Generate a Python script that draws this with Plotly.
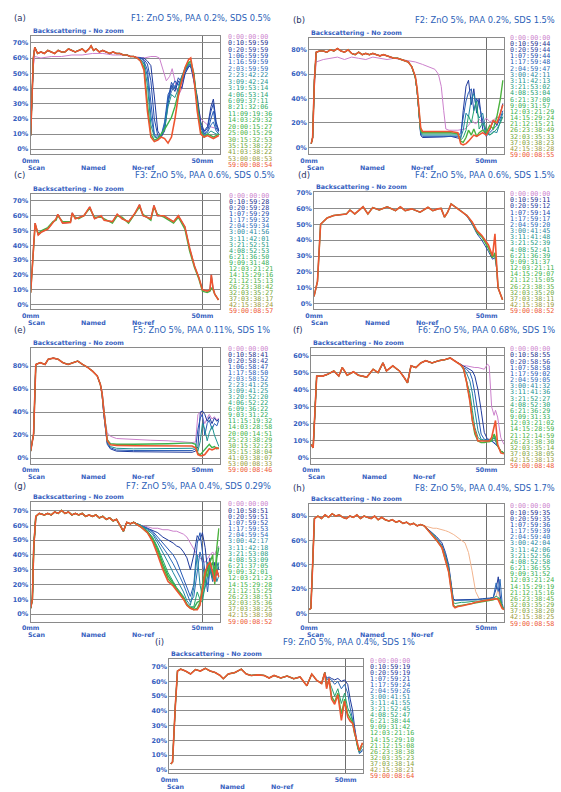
import plotly.graph_objects as go

W, H = 561, 792

# ---------------- Panel (a) F1 ----------------
A_HX = [0, 0.4, 0.8, 1.2, 2, 3, 4, 5, 6, 7, 8, 9, 10, 11, 12, 13, 14, 15, 16, 17, 17.6, 18.3, 19, 20, 21, 22, 23, 24, 25, 26, 27, 28, 29, 30, 31]
A_HY = [9, 30, 60, 67, 63, 64, 63, 65, 64, 63, 65, 64, 64, 66, 65, 64, 65, 66, 64, 66, 68, 65, 66, 64, 65, 64, 63, 64, 63, 63, 62, 62, 61, 61, 60]
A_P0X = [0, 0.4, 0.8, 1.2, 3, 6, 9, 12, 15, 18, 21, 24, 27, 30, 33, 35, 36.5, 37.5, 38.5, 39.5, 40.5, 41.2, 42, 43, 44, 45, 46.5, 47.5, 48.5, 49.5, 50.5, 52, 53.5, 54.8]
A_P0Y = [9, 30, 55, 61, 60, 61, 61, 62, 62, 63, 63, 62, 62, 61, 60, 61, 61, 60, 52, 45, 48, 53, 45, 35, 40, 52, 55, 45, 30, 20, 18, 15, 14, 13]
A_TX = [31, 32, 33, 34, 35, 36, 37, 38, 39, 40, 41, 42, 43, 44, 45, 46, 46.6, 47.5, 48.5, 49.5, 50.5, 51.5, 52.5, 53.2, 54, 54.8]
A_T2 = [60, 60, 60, 58, 55, 35, 12, 8, 12, 30, 42, 38, 45, 40, 50, 55, 56, 45, 35, 18, 12, 15, 28, 33, 18, 12]
A_T3 = [60, 60, 59, 56, 45, 20, 9, 8, 15, 33, 44, 40, 47, 44, 50, 54, 55, 47, 32, 16, 11, 14, 25, 30, 16, 12]
A_T4 = [60, 60, 58, 52, 30, 10, 8, 9, 18, 36, 40, 45, 42, 48, 52, 55, 54, 50, 30, 15, 10, 12, 20, 25, 14, 11]
A_T5 = [60, 59, 57, 48, 22, 9, 7, 9, 16, 32, 38, 42, 38, 46, 52, 56, 55, 49, 29, 14, 10, 11, 16, 18, 12, 10]
A_T7 = [60, 59, 56, 42, 16, 8, 7, 9, 14, 28, 36, 34, 40, 48, 54, 57, 56, 48, 28, 12, 9, 10, 12, 11, 10, 10]
A_T13 = [60, 58, 54, 30, 10, 6, 7, 10, 13, 17, 21, 28, 38, 46, 53, 57, 58, 50, 30, 12, 8, 10, 9, 8, 9, 10]
A_T20 = [60, 58, 52, 25, 8, 5, 6, 8, 7, 4, 8, 20, 35, 45, 54, 59, 60, 48, 25, 10, 8, 9, 8, 7, 8, 9]
A_LEG = ["0:00:00:00", "0:10:59:59", "0:20:59:59", "1:06:59:59", "1:16:59:59", "2:03:59:59", "2:23:42:22",
         "3:09:42:24", "3:19:53:14", "4:06:53:14", "6:09:37:11", "8:21:32:06", "11:09:19:36", "14:03:29:32",
         "20:00:15:27", "25:00:15:29", "30:15:32:53", "35:15:38:22", "41:03:38:22", "53:00:08:53", "59:00:08:54"]

# ---------------- Panel (b) F2 ----------------
B_HX = [0.6, 1.0, 1.5, 2.0, 3, 4, 5, 6, 7, 8, 9, 10, 11, 12, 13, 14, 15, 16, 17, 18, 19, 20, 21, 22, 23, 24, 25, 26, 27]
B_HY = [3, 8, 55, 78, 79, 79, 78, 80, 79, 81, 79, 78, 80, 77, 76, 78, 76, 77, 76, 77, 76, 75, 76, 75, 74, 73, 73, 72, 71]
B_P0X = [0.6, 1.0, 1.5, 2.0, 4, 6, 8, 10, 12, 14, 16, 18, 20, 22, 24, 26, 28, 30, 32, 34, 35.5, 36.5, 37.3, 38, 38.6, 39.5, 42, 44, 45, 46, 47, 48, 49, 50, 51, 52, 53, 54, 54.7]
B_P0Y = [3, 8, 50, 70, 72, 73, 74, 72, 74, 73, 72, 74, 73, 72, 73, 72, 71, 70, 68, 66, 64, 60, 50, 30, 15, 14, 14, 15, 18, 22, 19, 23, 20, 24, 21, 22, 25, 22, 25]
B_TX = [27, 28, 29, 30, 30.5, 31, 31.5, 32, 34, 36, 38, 40, 42, 42.8, 43.5, 44.3, 45, 45.8, 46.5, 47.3, 48, 49, 50, 51, 52, 53, 54, 54.7]
B_T2 = [71, 70, 66, 57, 46, 25, 10, 8, 8, 8, 8.5, 9, 8, 7, 30, 50, 55, 35, 48, 28, 40, 15, 10, 14, 22, 18, 28, 36]
B_T4 = [71, 70, 66, 57, 46, 25, 11, 9, 9, 9, 9, 9.5, 9, 12, 25, 38, 45, 48, 30, 40, 35, 22, 9, 12, 15, 18, 24, 30]
B_T6 = [71, 70, 66, 57, 46, 26, 12, 10, 10, 10, 10, 10, 10, 8, 14, 28, 25, 40, 44, 30, 24, 28, 12, 10, 13, 12, 22, 28]
B_T9 = [71, 70, 66, 57, 46, 27, 13, 11, 11, 11, 11.5, 11, 11, 6, 8, 14, 26, 20, 30, 38, 15, 20, 14, 10, 12, 15, 20, 25]
B_T14 = [71, 70, 66, 57, 47, 28, 14, 12, 12, 12, 12.5, 12, 11, 5, 4, 8, 14, 10, 15, 9, 12, 14, 12, 18, 15, 25, 40, 55]
B_T19 = [71, 70, 66, 58, 48, 30, 16, 13, 13, 13, 13.5, 13, 12, 3, 2, 3, 5, 8, 10, 9, 10, 12, 10, 15, 22, 20, 28, 35]
B_LEG = ["0:00:00:00", "0:10:59:44", "0:20:59:44", "1:07:59:44", "1:17:59:48", "2:04:59:47", "3:00:42:11",
         "3:11:42:13", "3:21:53:02", "4:08:53:04", "6:21:37:00", "9:09:31:57", "12:03:21:29", "14:15:29:24",
         "21:12:15:21", "26:23:38:49", "32:03:35:33", "37:03:38:23", "42:15:38:28", "59:00:08:55"]

# ---------------- Panel (c) F3 ----------------
C_X = [0, 0.6, 1.3, 2.2, 3.2, 5, 6.5, 7.4, 7.9, 9.3, 11.6, 12.1, 13, 14, 15.5, 17.2, 18.6, 20.5, 21.4, 23.8, 25.2, 26.6, 28.5, 30.3, 31.7, 32.7, 35, 35.9, 36.9, 38.8, 40.2, 41.6, 43, 44.9, 46.3, 47.7, 49, 50, 51.4, 52.2, 52.6, 53.1, 53.6, 54.7]
C_Y = [8, 30, 55, 47, 49, 51, 55, 58, 61, 55, 55.5, 62, 58, 59, 60, 66, 58, 60, 57, 56, 61, 58, 56, 61.5, 67.5, 60, 58, 67, 60, 60, 58, 56, 60, 52.6, 38, 26, 18, 10, 9, 10, 20, 11, 7, 3]
C_Y2 = [8, 30, 54, 48, 50, 52, 56, 57, 60, 56, 56, 61, 59, 58, 60, 65, 59, 59, 58, 55, 60, 59, 55, 61, 66, 61, 57, 66, 61, 59, 57, 55, 59, 51, 36, 25, 17, 9, 8, 9, 11, 10, 7, 3]
C_LEG = ["0:00:00:00", "0:10:59:28", "0:20:59:28", "1:07:59:29", "1:17:59:32", "2:04:59:34", "3:00:41:56",
         "3:11:42:01", "3:21:52:51", "4:08:52:53", "6:21:36:50", "9:09:31:48", "12:03:21:21", "14:15:29:16",
         "21:12:15:13", "26:23:38:42", "32:03:35:27", "37:03:38:17", "42:15:38:24", "59:00:08:57"]

# ---------------- Panel (d) F4 ----------------
D_X = [0, 0.5, 1.0, 1.9, 3.8, 5.7, 7.6, 9.4, 10.4, 11.8, 14.2, 15.6, 17, 18.9, 21.2, 23.6, 25, 26.4, 28.3, 30.7, 33, 34.4, 35.9, 36.8, 37.8, 38.7, 39.7, 41.1, 42.5, 44.3, 45.8, 47.2, 48.6, 50.5, 51.7, 52.4, 52.9, 53.3, 54.6]
D_Y = [4.6, 10, 14, 50, 54, 55.5, 56, 56.5, 59, 56.5, 61, 56.5, 60.5, 59, 61, 58.6, 61, 58.6, 59.7, 57.6, 60.7, 58.6, 59.7, 60, 54.5, 57.6, 62.8, 60.7, 58.6, 55.5, 51.4, 46, 43, 37, 30, 44, 24, 10, 2.5]
D_Y2 = [4.6, 10, 14, 50, 54, 55.5, 56, 56.5, 59, 56.5, 61, 56.5, 60.5, 59, 61, 58.6, 61, 58.6, 59.7, 57.6, 60.7, 58.6, 59.7, 60, 54.5, 57.6, 62.8, 60.7, 58.6, 55, 50, 44, 40, 33, 28, 29, 22, 10, 2.5]
D_Y3 = [4.6, 10, 14, 50, 54, 55.5, 56, 56.5, 59, 56.5, 61, 56.5, 60.5, 59, 61, 58.6, 61, 58.6, 59.7, 57.6, 60.7, 58.6, 59.7, 60, 54.5, 57.6, 62.8, 60.7, 58.6, 55.5, 51, 45, 42, 35, 29, 32, 23, 10, 2.5]
D_LEG = ["0:00:00:00", "0:10:59:11", "0:20:59:12", "1:07:59:14", "1:17:59:17", "2:04:59:20", "3:00:41:45",
         "3:11:41:48", "3:21:52:39", "4:08:52:41", "6:21:36:39", "9:09:31:37", "12:03:21:11", "14:15:29:07",
         "21:12:15:05", "26:23:38:35", "32:03:35:20", "37:03:38:11", "42:15:38:19", "59:00:08:52"]

# ---------------- Panel (e) F5 ----------------
E_HX = [0, 0.86, 1.5, 2.8, 4.2, 5.1, 6.6, 8, 9.4, 10.9, 12.3, 13.7, 15.1, 16.6, 18, 19.4, 20.3]
E_HY = [6, 21, 81.5, 83, 81.5, 86, 87, 86, 83, 81.5, 83, 84.4, 81.5, 79, 75.7, 71.4, 64]
E_TX = [20.3, 20.8, 21.3, 21.8, 22.3, 23.2, 25, 30, 35, 40, 45, 47, 48, 48.7, 49.4, 50, 50.7, 51.4, 52, 52.8, 53.5, 54.2, 54.8]
E_T0 = [64, 58, 45, 30, 22, 19, 17, 16, 15.5, 15, 14, 13.5, 14, 38, 40, 36, 30, 35, 38, 34, 36, 33, 35]
E_T2 = [64, 55, 38, 22, 12, 8, 6, 5.5, 5.5, 5, 5, 5, 6, 10, 40, 41, 38, 32, 36, 30, 35, 32, 34]
E_T4 = [64, 55, 38, 22, 13, 9, 7, 6.5, 6.5, 6, 6, 6.5, 8, 25, 35, 38, 20, 30, 33, 25, 30, 28, 33]
E_T7 = [64, 56, 40, 24, 14, 10, 8.5, 8, 8, 8, 8, 8.5, 9, 6, 15, 30, 25, 15, 22, 28, 20, 15, 10]
E_T13 = [64, 56, 42, 26, 16, 12.5, 12, 12, 12, 12.5, 13, 13, 12, 4, 3, 5, 8, 10, 12, 9, 10, 8, 9]
E_T20 = [64, 56, 41, 25, 15, 11.5, 11, 10.7, 10.7, 10.7, 10.5, 10.5, 9, 3, 2, 2, 3, 6, 8, 7, 8, 9, 8]
E_LEG = ["0:00:00:00", "0:10:58:41", "0:20:58:42", "1:06:58:47", "1:17:58:50", "2:03:58:52", "2:23:41:25",
         "3:09:41:25", "3:20:52:20", "4:06:52:22", "6:09:36:22", "9:03:31:22", "11:15:19:32", "14:03:28:58",
         "20:00:14:51", "25:23:38:29", "30:15:32:23", "35:15:38:04", "41:03:38:07", "53:00:08:33", "59:00:08:46"]

# ---------------- Panel (f) F6 ----------------
F_HX = [0, 0.6, 1.6, 3.3, 4.7, 6.5, 7.9, 8.9, 10.3, 12.1, 13.5, 15.9, 17.7, 19.1, 20.5, 21.5, 23.3, 25.2, 26.6, 27.5, 28.5, 29.9, 31.3, 32.7, 34.5, 36.4, 38.3, 39.7, 41.1, 42.5]
F_HY = [8, 6, 48, 48, 49, 51, 48, 53, 48.5, 50.5, 48.5, 47.4, 52, 50, 55.7, 51, 54, 51, 47, 44, 54, 53, 55.7, 57, 55.7, 57, 57.7, 58.6, 56.7, 54.8]
F_TX = [42.5, 43.4, 44.3, 45.3, 46, 46.7, 47.6, 48.5, 49.4, 50.3, 50.8, 51.5, 52.2, 52.6, 53.2, 54.1, 55]
F_T0 = [54.8, 54, 54, 53.5, 53, 53, 53, 52.5, 52, 55, 54, 30, 25, 28, 24, 12, 8]
F_T2 = [54.8, 54, 53, 52, 51, 48, 40, 28, 15, 11, 11, 10, 9, 8, 7, 4, 3]
F_T4 = [54.8, 53, 52, 50, 46, 38, 26, 14, 11, 10.5, 10.5, 10, 9, 8, 7, 4, 3]
F_T6 = [54.8, 53, 50, 45, 38, 28, 16, 11, 10.5, 10.5, 10.5, 10, 12, 10, 7, 4, 3]
F_T9 = [54.8, 52, 46, 38, 28, 18, 12, 10.5, 10, 10, 10, 11, 13, 11, 7, 4, 3]
F_T14 = [54.8, 53, 45, 34, 22, 14, 10, 9, 9, 9.5, 9.5, 10, 14, 12, 7, 4, 3]
F_T19 = [54.8, 53, 45, 33, 22, 16, 10, 10, 10, 10, 10, 12, 19, 22, 8, 3, 2.5]
F_LEG = ["0:00:00:00", "0:10:58:55", "0:20:58:56", "1:07:58:58", "1:17:59:02", "2:04:59:05", "3:00:41:32",
         "3:11:41:36", "3:21:52:27", "4:08:52:30", "6:21:36:29", "9:09:31:33", "12:03:21:02", "14:15:28:59",
         "21:12:14:59", "26:23:38:30", "32:03:35:14", "37:03:38:05", "42:15:38:13", "59:00:08:48"]

# ---------------- Panel (g) F7 ----------------
G_HX = [0, 0.5, 0.9, 1.5, 2.5, 4, 5, 6, 7, 8, 9, 10, 11, 12, 13, 14, 15, 16, 17, 18, 19, 20, 21, 22, 23, 24, 25, 26, 27, 28, 29, 30]
G_HY = [4, 10, 45, 66, 68, 67, 68, 67, 69, 68, 70, 68, 69, 67, 68, 67, 68, 66, 67, 66, 67, 65, 66, 64, 65, 63, 64, 60, 56, 62, 61, 62]
G_TX = [30, 32, 34, 35.5, 37, 38.5, 40, 41.5, 42.5, 43.5, 44.5, 45.5, 46.5, 47.5, 48.5, 49.3, 50, 50.8, 51.5, 52.2, 53, 53.6, 54.2, 54.8]
G_T0 = [62, 60, 59, 58, 58, 57, 57, 56, 56, 55, 54, 52, 48, 44, 40, 38, 36, 35, 38, 40, 42, 40, 44, 46]
G_T2 = [62, 60, 58, 57, 55, 52, 50, 48, 46, 45, 42, 38, 30, 40, 53, 50, 55, 45, 30, 38, 25, 35, 28, 32]
G_T4 = [62, 60, 58, 56, 52, 48, 44, 40, 36, 30, 24, 18, 12, 20, 48, 55, 42, 25, 15, 30, 22, 28, 35, 30]
G_T5 = [62, 60, 58, 55, 50, 45, 40, 34, 30, 25, 20, 14, 8, 12, 30, 42, 35, 22, 20, 32, 25, 30, 26, 28]
G_T6 = [62, 60, 57, 54, 48, 42, 35, 28, 24, 20, 15, 9, 6, 18, 40, 20, 12, 18, 25, 35, 28, 30, 22, 26]
G_T9 = [62, 60, 56, 52, 45, 36, 28, 22, 18, 15, 12, 7, 5, 5, 15, 10, 8, 20, 35, 30, 24, 32, 28, 35]
G_T11 = [62, 59, 56, 51, 44, 34, 26, 21, 17, 14, 11, 6.5, 4.5, 4, 8, 9, 14, 25, 30, 32, 35, 25, 38, 45]
G_T14 = [62, 59, 55, 50, 42, 32, 24, 20, 17, 14, 11, 6, 4, 3, 4, 8, 20, 30, 25, 35, 40, 20, 45, 58]
G_T19 = [62, 59, 55, 49, 40, 30, 22, 19, 16, 13, 10, 6, 4, 3, 3, 6, 18, 28, 33, 35, 28, 22, 30, 25]
G_LEG = ["0:00:00:00", "0:10:58:51", "0:20:59:51", "1:07:59:52", "1:17:59:53", "2:04:59:54", "3:00:42:17",
         "3:11:42:18", "3:21:53:08", "4:08:53:09", "6:21:37:05", "9:09:32:01", "12:03:21:23", "14:15:29:28",
         "21:12:15:25", "26:23:38:51", "32:03:35:36", "37:03:38:25", "42:15:38:30", "59:00:08:52"]

# ---------------- Panel (h) F8 ----------------
H_HX = [0, 0.5, 1, 1.5, 2.5, 3.5, 4.5, 5.5, 6.5, 7.5, 8.5, 9.5, 10.5, 11.5, 12.5, 13.5, 14.5, 15.5, 16.5, 17.5, 18.5, 19.5, 20.5, 21.5, 22.5, 23.5, 24.5, 25.5, 26.5, 27.5, 28.5, 29.5, 30.5, 31.5, 32.5]
H_HY = [3, 4, 40, 78, 80, 78, 81, 79, 82, 80, 81, 79, 78, 80, 79, 81, 78, 80, 79, 78, 80, 77, 79, 77, 76, 77, 75, 76, 74, 75, 73, 74, 72, 73, 72]
H_TX = [32.5, 34, 35, 36, 37.5, 38.5, 39.4, 40.3, 40.7, 41.2, 42, 43, 44, 45, 46, 47, 48, 49, 50, 51, 52, 52.8, 53.4, 53.9, 54.5, 55]
H_T0 = [72, 71, 70, 70, 69, 68, 67, 66, 65, 64, 62, 60, 58, 50, 35, 18, 12, 11, 11, 12, 13, 14, 20, 10, 5, 3]
H_T2 = [72, 68, 66, 63, 58, 50, 40, 20, 12, 11, 11, 11, 11, 11, 11, 11.5, 11.5, 12, 12, 12.5, 13, 20, 30, 15, 5, 3]
H_T5 = [72, 68, 65, 62, 56, 48, 38, 18, 11, 10.5, 10.5, 10.5, 10.5, 11, 11, 11, 11.5, 11.5, 12, 12, 13, 25, 18, 28, 8, 3]
H_T9 = [72, 67, 65, 61, 55, 46, 36, 17, 9, 8, 8.5, 9, 9, 9.5, 9.5, 10, 10, 10.5, 10.5, 11, 12, 14, 13, 12, 6, 3]
H_T14 = [72, 67, 64, 60, 54, 45, 35, 16, 7, 5, 6, 6.5, 7, 8, 8.5, 9, 9.5, 10, 10, 10.5, 11, 12, 12, 10, 5, 3]
H_T19 = [72, 67, 64, 60, 54, 44, 34, 15, 6, 4.5, 5.5, 6, 6.5, 7.5, 8, 9, 9.5, 10, 10, 10.5, 11, 12, 11, 8, 4, 3]
H_LEG = ["0:00:00:00", "0:10:59:35", "0:20:59:35", "1:07:59:36", "1:17:59:39", "2:04:59:40", "3:00:42:04",
         "3:11:42:06", "3:21:52:56", "4:08:52:58", "6:21:36:55", "9:09:31:52", "12:03:21:24", "14:15:29:19",
         "21:12:15:16", "26:23:38:45", "32:03:35:29", "37:03:38:20", "42:15:38:25", "59:00:08:58"]

# ---------------- Panel (i) F9 ----------------
I_HX = [0.4, 0.9, 1.7, 2.3, 3.2, 4.6, 6, 7.4, 8.8, 10.2, 11.6, 13, 14.4, 15.3, 16.7, 18.6, 20.4, 21.8, 23.2, 25.1, 26.9, 28.3, 29.7, 31.6, 33.4, 35.3, 37.1, 39, 40.4, 41.8, 43.2, 44.1]
I_HY = [4, 5.4, 44, 67, 68.3, 67, 65, 68, 67, 68.8, 67, 66, 64, 61.8, 65, 66, 68.3, 65, 64, 64.4, 64, 62.3, 64, 62.3, 63.6, 61.8, 63, 57, 65, 60.7, 58.6, 66]
I_TX = [44.1, 44.6, 45.3, 46, 46.9, 47.8, 48.8, 49.7, 50.6, 51.3, 52, 52.5, 53, 53.5, 53.9, 54.4, 54.8]
I_T2 = [66, 62, 63, 62, 61, 62, 60, 61, 58, 48, 40, 30, 22, 15, 12, 12, 13]
I_T5 = [66, 61, 62, 61, 58, 60, 55, 58, 52, 42, 35, 28, 20, 14, 11, 12, 14]
I_T9 = [66, 58, 60, 56, 50, 55, 45, 52, 42, 38, 33, 26, 20, 14, 12, 14, 16]
I_T14 = [66, 56, 61, 50, 46, 52, 38, 48, 38, 35, 32, 25, 21, 15, 13, 16, 18]
I_T19 = [66, 55, 62, 48, 44.5, 51, 33.6, 46.6, 35.8, 33, 31.5, 26, 20.6, 16, 13, 16, 18.4]
I_LEG = ["0:00:00:00", "0:10:59:19", "0:20:59:19", "1:07:59:21", "1:17:59:24", "2:04:59:26", "3:00:41:51",
         "3:11:41:55", "3:21:52:45", "4:08:52:47", "6:21:38:44", "9:09:31:42", "12:03:21:16", "14:15:29:10",
         "21:12:15:08", "26:23:38:38", "32:03:35:23", "37:03:38:14", "42:15:38:21", "59:00:08:64"]

TITLES = ["F1: ZnO 5%, PAA 0.2%, SDS 0.5%", "F2: ZnO 5%, PAA 0.2%, SDS 1.5%",
          "F3: ZnO 5%, PAA 0.6%, SDS 0.5%", "F4: ZnO 5%, PAA 0.6%, SDS 1.5%",
          "F5: ZnO 5%, PAA 0.11%, SDS 1%", "F6: ZnO 5%, PAA 0.68%, SDS 1%",
          "F7: ZnO 5%, PAA 0.4%, SDS 0.29%", "F8: ZnO 5%, PAA 0.4%, SDS 1.7%",
          "F9: ZnO 5%, PAA 0.4%, SDS 1%"]
LABELS = ["(a)", "(b)", "(c)", "(d)", "(e)", "(f)", "(g)", "(h)", "(i)"]
AXIS_NAMES = ["Scan", "Named", "No-ref"]

# ---------------- styling ----------------
PAL = ['#cc80cc', '#1c2d8c', '#1f3a9c', '#2149ab', '#2559b5', '#2a6ab8', '#1f86a0', '#1d9490',
       '#1f9c80', '#23a270', '#28a766', '#2dab5c', '#33ae52', '#3ab14a', '#42b244', '#4cb23f',
       '#5cae3b', '#70a838', '#86a036', '#9c9a38', '#ee5530']
BLUE = '#3560c0'


def col(k, n):
    return PAL[round(k * 20 / (n - 1))]


def join(hx, hy, tx, ty):
    return hx + tx[1:], hy + ty[1:]


PANELS = [
    dict(box=(22, 214, 33, 152), yr=[-3.3, 74.6], yt=[0, 10, 20, 30, 40, 50, 60, 70], ty=15, lx=3, tr=268,
         legx=222, legy=34, legs=6.45, leg=A_LEG, sy=13,
         curves=[(0, A_P0X, A_P0Y)] + [(k, *join(A_HX, A_HY, A_TX, t)) for k, t in
                                        [(2, A_T2), (3, A_T3), (4, A_T4), (5, A_T5), (7, A_T7), (13, A_T13), (20, A_T20)]]),
    dict(box=(305, 503, 35, 152), yr=[-5.7, 89.8], yt=[0, 20, 40, 60, 80], ty=17, lx=287, tr=557,
         legx=508, legy=35, legs=6.2, leg=B_LEG, sy=13,
         curves=[(0, B_P0X, B_P0Y)] + [(k, *join(B_HX, B_HY, B_TX, t)) for k, t in
                                        [(2, B_T2), (4, B_T4), (6, B_T6), (9, B_T9), (14, B_T14), (19, B_T19)]]),
    dict(box=(22, 214, 192, 308), yr=[-3.4, 74.7], yt=[0, 10, 20, 30, 40, 50, 60, 70], ty=173, lx=3, tr=272,
         legx=223, legy=194, legs=6.1, leg=C_LEG, sy=13,
         curves=[(3, C_X, C_Y), (13, C_X, C_Y2), (19, C_X, C_Y)]),
    dict(box=(310, 503, 190, 308), yr=[-3.6, 70.3], yt=[0, 10, 20, 30, 40, 50, 60, 70], ty=173, lx=292, tr=557,
         legx=508, legy=192, legs=6.2, leg=D_LEG, sy=13,
         curves=[(3, D_X, D_Y2), (13, D_X, D_Y3), (19, D_X, D_Y)]),
    dict(box=(22, 214, 347, 463), yr=[-4.9, 95.6], yt=[0, 20, 40, 60, 80], ty=329, lx=3, tr=267,
         legx=222, legy=348, legs=6.05, leg=E_LEG, sy=13,
         curves=[(k, *join(E_HX, E_HY, E_TX, t)) for k, t in
                 [(0, E_T0), (2, E_T2), (4, E_T4), (7, E_T7), (13, E_T13), (20, E_T20)]]),
    dict(box=(307, 503, 347, 463), yr=[-3.3, 64.3], yt=[0, 10, 20, 30, 40, 50, 60], ty=329, lx=287, tr=557,
         legx=508, legy=348, legs=6.2, leg=F_LEG, sy=13,
         curves=[(k, *join(F_HX, F_HY, F_TX, t)) for k, t in
                 [(0, F_T0), (2, F_T2), (4, F_T4), (6, F_T6), (9, F_T9), (14, F_T14), (19, F_T19)]]),
    dict(box=(22, 214, 502, 622), yr=[-5.2, 75.4], yt=[0, 10, 20, 30, 40, 50, 60, 70], ty=485, lx=3, tr=268,
         legx=222, legy=504, legs=6.2, leg=G_LEG, sy=13,
         curves=[(k, *join(G_HX, G_HY, G_TX, t)) for k, t in
                 [(0, G_T0), (2, G_T2), (4, G_T4), (5, G_T5), (6, G_T6), (9, G_T9), (11, G_T11), (14, G_T14), (19, G_T19)]]),
    dict(box=(305, 503, 504, 622), yr=[-7.1, 89.6], yt=[0, 20, 40, 60, 80], ty=487, lx=287, tr=557,
         legx=508, legy=506, legs=6.2, leg=H_LEG, sy=13,
         curves=[(k, *join(H_HX, H_HY, H_TX, t)) for k, t in
                 [(0, H_T0), (2, H_T2), (5, H_T5), (9, H_T9), (14, H_T14), (19, H_T19)]]),
    dict(box=(163, 360, 659, 774), yr=[-2.2, 75.4], yt=[0, 10, 20, 30, 40, 50, 60, 70], ty=642, lx=146, tr=415,
         legx=366, legy=661, legs=6.1, leg=I_LEG, sy=13,
         curves=[(k, *join(I_HX, I_HY, I_TX, t)) for k, t in
                 [(2, I_T2), (5, I_T5), (9, I_T9), (14, I_T14), (19, I_T19)]]),
]

fig = go.Figure()
layout = dict(width=W, height=H, margin=dict(l=0, r=0, t=0, b=0, pad=0),
              paper_bgcolor='white', plot_bgcolor='white', showlegend=False)
annotations = []


def px(x):
    return x / W


def py(y):
    return 1 - y / H


for i, p in enumerate(PANELS):
    n = i + 1
    sx = '' if n == 1 else str(n)
    x0, x1, y0, y1 = p['box']
    nleg = len(p['leg'])
    layout['xaxis' + sx] = dict(
        domain=[px(x0), px(x1)], anchor='y' + sx, range=[0, 55],
        tickvals=[0, 50], ticktext=['0mm', '50mm'], showgrid=True, gridcolor='#6e6e6e', gridwidth=1,
        zeroline=False, showline=True, mirror=True, linecolor='#8a8a8a', linewidth=1, ticks='',
        tickfont=dict(family='DejaVu Sans', size=6.3, color=BLUE, weight='bold'), fixedrange=True)
    layout['yaxis' + sx] = dict(
        domain=[py(y1), py(y0)], anchor='x' + sx, range=p['yr'],
        tickvals=p['yt'], ticktext=[f'{v}%' for v in p['yt']], showgrid=True, gridcolor='#8c8c8c',
        gridwidth=1, zeroline=False, showline=True, mirror=True, linecolor='#8a8a8a', linewidth=1,
        ticks='', tickfont=dict(family='DejaVu Sans', size=6.5, color=BLUE, weight='bold'), fixedrange=True)
    for k, xs, ys in sorted(p['curves'], key=lambda c: c[0]):
        c = col(k, nleg)
        if n == 8 and k == 0:
            c = '#f2b48e'
        w = 1.0 if k < 10 else (1.4 if k < 19 else 1.6)
        fig.add_trace(go.Scatter(x=xs, y=ys, mode='lines', line=dict(color=c, width=w),
                                 xaxis='x' + sx, yaxis='y' + sx, hoverinfo='skip'))
    annotations.append(dict(text=LABELS[i], x=px(p['lx']), y=py(p['ty']), xref='paper', yref='paper',
                            xanchor='left', yanchor='middle', showarrow=False,
                            font=dict(family='DejaVu Sans', size=8.5, color='#2a3566')))
    annotations.append(dict(text=TITLES[i], x=px(p['tr']), y=py(p['ty']), xref='paper', yref='paper',
                            xanchor='right', yanchor='middle', showarrow=False,
                            font=dict(family='DejaVu Sans', size=8.3, color='#2c5fb8')))
    annotations.append(dict(text='Backscattering - No zoom', x=px(x0), y=py(y0 - 5), xref='paper', yref='paper',
                            xanchor='left', yanchor='middle', showarrow=False,
                            font=dict(family='DejaVu Sans', size=6.3, color=BLUE, weight='bold')))
    for lab, dx in zip(AXIS_NAMES, [6, 64, 115]):
        annotations.append(dict(text=lab, x=px(x0 + dx), y=py(y1 + p['sy']), xref='paper', yref='paper',
                                xanchor='center', yanchor='middle', showarrow=False, borderpad=0,
                                font=dict(family='DejaVu Sans', size=6.3, color=BLUE, weight='bold')))
    for j, lab in enumerate(p['leg']):
        annotations.append(dict(text=lab, x=px(p['legx']), y=py(p['legy'] + j * p['legs']),
                                xref='paper', yref='paper', xanchor='left', yanchor='middle',
                                showarrow=False, borderpad=0,
                                font=dict(family='DejaVu Sans Mono', size=6.7, color=col(j, nleg))))

layout['annotations'] = annotations
fig.update_layout(**layout)
fig.write_html("out.html")
